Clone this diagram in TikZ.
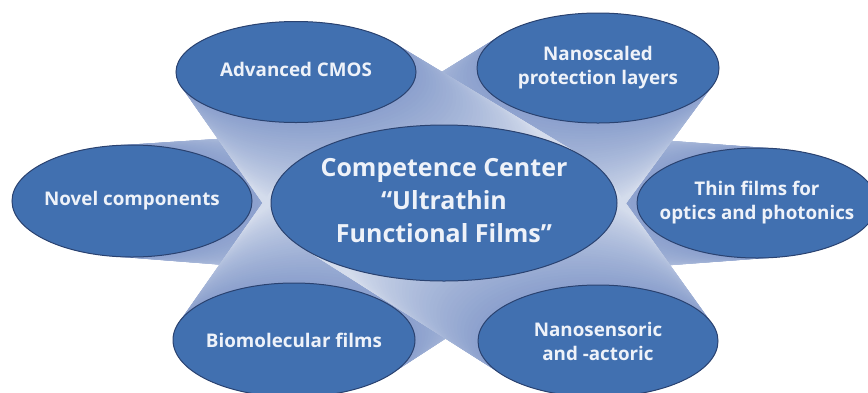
\documentclass[tikz,border=0pt]{standalone}
\usepackage{fontspec}
\setmainfont{Open Sans}
\usetikzlibrary{shapes.geometric,calc}
\pgfdeclarelayer{background}
\pgfsetlayers{background,main}
\definecolor{ellfill}{HTML}{4170B0}
\definecolor{elldraw}{HTML}{2A4270}
\definecolor{txt}{HTML}{EEF2F9}
\definecolor{banddark}{HTML}{8BA0CD}
\definecolor{bandlight}{HTML}{D4DCEC}
% sweep of ellipses from an outer node to the centre node
\newcommand\bandsweep[3]{%
  \foreach \ii in {60,59,...,0}{%
    \pgfmathsetmacro\sweept{\ii/60}%
    \pgfmathsetmacro\sweepp{min(100,150*\sweept)}%
    \pgfmathsetmacro\sweeprx{#2+(173-#2)*\sweept}%
    \pgfmathsetmacro\sweepry{#3+(78-#3)*\sweept}%
    \colorlet{bandcol}{bandlight!\sweepp!banddark}%
    \fill[bandcol] ($(#1)!\sweept!(C)$) ellipse [x radius=\sweeprx pt, y radius=\sweepry pt];
  }%
}
\begin{document}
\begin{tikzpicture}[x=1pt,y=-1pt,
  blob/.style={ellipse, fill=ellfill, draw=elldraw, line width=1pt, text=txt,
    font=\bfseries\fontsize{18.8}{24}\selectfont, align=center,
    inner xsep=-60pt, inner ysep=-20pt},
  bigblob/.style={blob, font=\bfseries\fontsize{25}{33}\selectfont}
]
\useasboundingbox (0,0) rectangle (868,392);
\node[bigblob, minimum width=346pt, minimum height=156pt] (C) at (444,203)
  {\raisebox{-5pt}{\begin{tabular}{@{}c@{}}Competence Center\\``Ultrathin\\Functional Films''\end{tabular}}};
\node[blob, minimum width=240pt, minimum height=101pt] (A) at (296,72) {\raisebox{5pt}{Advanced CMOS}};
\node[blob, minimum width=242pt, minimum height=110pt] (B) at (598,68) {Nanoscaled\\protection layers};
\node[blob, minimum width=240pt, minimum height=112pt] (N) at (132,201) {Novel components};
\node[blob, minimum width=240pt, minimum height=110pt] (T) at (757,203) {Thin films for\\optics and photonics};
\node[blob, minimum width=242pt, minimum height=114pt] (Bi) at (294,340) {\raisebox{-4pt}{Biomolecular films}};
\node[blob, minimum width=240pt, minimum height=112pt] (Ns) at (598,341) {Nanosensoric\\and -actoric};
\begin{pgfonlayer}{background}
  \bandsweep{N}{120}{56}
  \bandsweep{T}{120}{55}
  \bandsweep{B}{121}{55}
  \bandsweep{A}{120}{50.5}
  \bandsweep{Bi}{121}{57}
  \bandsweep{Ns}{120}{56}
\end{pgfonlayer}
\end{tikzpicture}
\end{document}
